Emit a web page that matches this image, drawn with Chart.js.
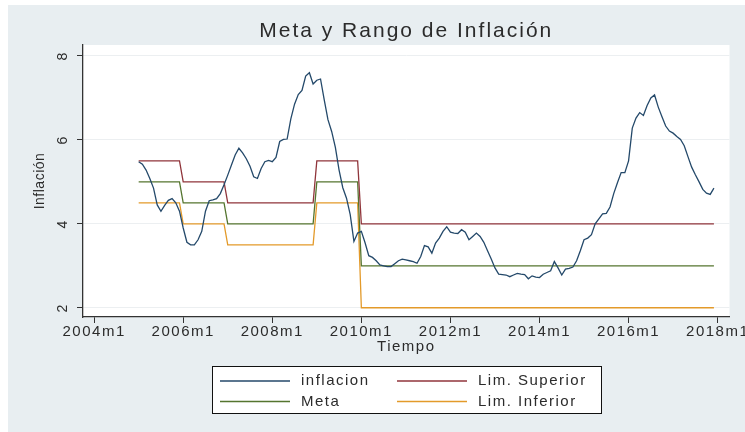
<!DOCTYPE html>
<html>
<head>
<meta charset="utf-8">
<script src="https://cdn.jsdelivr.net/npm/chart.js@4.4.1/dist/chart.umd.min.js"></script>
<style>
  html, body { margin: 0; padding: 0; background: #fff; }
  canvas { display: block; }
</style>
</head>
<body>
<canvas id="myChart" width="745" height="432"></canvas>
<script>
// months are counted from 2004m1 = 0, the series start at 2005m1
const firstMonth = 12;

// monthly inflation, 2005m1 .. 2017m12 (one row per year)
const inflacion = [
  5.48, 5.42, 5.28, 5.08, 4.85, 4.45, 4.30, 4.44, 4.56, 4.60, 4.50, 4.30,
  3.90, 3.56, 3.50, 3.50, 3.62, 3.82, 4.30, 4.55, 4.57, 4.60, 4.72, 4.93,
  5.16, 5.40, 5.64, 5.80, 5.69, 5.55, 5.37, 5.12, 5.08, 5.32, 5.48, 5.51,
  5.48, 5.58, 5.96, 6.01, 6.02, 6.50, 6.85, 7.08, 7.18, 7.52, 7.60, 7.33,
  7.42, 7.45, 6.95, 6.48, 6.20, 5.82, 5.28, 4.86, 4.61, 4.22, 3.58, 3.78,
  3.82, 3.55, 3.24, 3.20, 3.12, 3.02, 3.00, 2.98, 2.98, 3.05, 3.12, 3.16,
  3.14, 3.12, 3.10, 3.06, 3.22, 3.48, 3.45, 3.30, 3.54, 3.66, 3.82, 3.93,
  3.80, 3.78, 3.77, 3.86, 3.80, 3.62, 3.70, 3.78, 3.70, 3.56, 3.36, 3.16,
  2.95, 2.80, 2.79, 2.78, 2.74, 2.78, 2.82, 2.80, 2.79, 2.69, 2.76, 2.73,
  2.72, 2.80, 2.84, 2.88, 3.10, 2.95, 2.78, 2.92, 2.94, 2.97, 3.12, 3.36,
  3.62, 3.66, 3.74, 4.00, 4.12, 4.24, 4.25, 4.40, 4.72, 4.98, 5.22, 5.22,
  5.50, 6.28, 6.52, 6.65, 6.58, 6.82, 7.00, 7.07, 6.78, 6.55, 6.33, 6.21,
  6.16, 6.08, 6.01, 5.86, 5.60, 5.35, 5.17, 5.00, 4.82, 4.73, 4.70, 4.85
];

// target periods: first month of each period (2005m1, 2006m1, 2007m1, 2009m1, 2010m1)
const periodStart = [12, 24, 36, 60, 72];
const meta        = [5.0, 4.5, 4.0, 5.0, 3.0];
const limSuperior = [5.5, 5.0, 4.5, 5.5, 4.0];
const limInferior = [4.5, 4.0, 3.5, 4.5, 2.0];

const xTickMonths = [0, 24, 48, 72, 96, 120, 144, 168];
const xTickLabels = ['2004m1', '2006m1', '2008m1', '2010m1', '2012m1', '2014m1', '2016m1', '2018m1'];
const yTicks = [2, 4, 6, 8];

const inflPoints = inflacion.map((v, i) => ({ x: firstMonth + i, y: v }));

// step values hold for every month of their period
function stepPoints(values) {
  return inflacion.map((_, i) => {
    const m = firstMonth + i;
    let k = 0;
    while (k + 1 < periodStart.length && periodStart[k + 1] <= m) k++;
    return { x: m, y: values[k] };
  });
}

const FONT = 'Liberation Sans, Arial, sans-serif';

const stataLook = {
  id: 'stataLook',
  beforeDraw(chart) {
    const { ctx, chartArea: a } = chart;
    ctx.save();
    ctx.fillStyle = '#ffffff';
    ctx.fillRect(0, 0, 745, 432);
    ctx.fillStyle = '#e8eef1';
    ctx.fillRect(8, 5, 737, 427);
    ctx.fillStyle = '#ffffff';
    ctx.fillRect(a.left, a.top, a.right - a.left, a.bottom - a.top);
    ctx.restore();
    ctx.letterSpacing = '1.5px';
  },
  afterDraw(chart) {
    const { ctx, chartArea: a } = chart;
    const yScale = chart.scales.y;
    const cx = (a.left + a.right) / 2;
    ctx.save();
    ctx.fillStyle = '#2b2b2b';
    ctx.textAlign = 'center';
    ctx.textBaseline = 'middle';

    // title
    ctx.letterSpacing = '2px';
    ctx.font = '21px ' + FONT;
    ctx.fillText('Meta y Rango de Inflación', cx, 31);

    // x axis title
    ctx.letterSpacing = '1.5px';
    ctx.font = '15px ' + FONT;
    ctx.fillText('Tiempo', cx, 347);

    // rotated y tick labels and title
    ctx.font = '14px ' + FONT;
    yTicks.forEach(v => {
      ctx.save();
      ctx.translate(63, yScale.getPixelForValue(v));
      ctx.rotate(-Math.PI / 2);
      ctx.fillText(String(v), 0, 0);
      ctx.restore();
    });
    ctx.letterSpacing = '0.5px';
    ctx.save();
    ctx.translate(40, (a.top + a.bottom) / 2);
    ctx.rotate(-Math.PI / 2);
    ctx.fillText('Inflación', 0, 0);
    ctx.restore();

    // legend
    ctx.fillStyle = '#ffffff';
    ctx.fillRect(212, 366, 390, 48);
    ctx.strokeStyle = '#111';
    ctx.lineWidth = 1;
    ctx.strokeRect(212.5, 366.5, 389, 47);
    const slots = [[220, 381], [397, 381], [220, 401.5], [397, 401.5]];
    ctx.letterSpacing = '1.5px';
    ctx.font = '15px ' + FONT;
    ctx.textAlign = 'left';
    chart.data.datasets.forEach((ds, i) => {
      const [lx, ly] = slots[i];
      ctx.strokeStyle = ds.borderColor;
      ctx.lineWidth = 1.3;
      ctx.beginPath();
      ctx.moveTo(lx, ly);
      ctx.lineTo(lx + 70, ly);
      ctx.stroke();
      ctx.fillStyle = '#2b2b2b';
      ctx.fillText(ds.label, lx + 81, ly);
    });
    ctx.restore();
  }
};

new Chart(document.getElementById('myChart'), {
  type: 'line',
  data: {
    datasets: [
      { label: 'inflacion', data: inflPoints, borderColor: '#24496a' },
      { label: 'Lim. Superior', data: stepPoints(limSuperior), borderColor: '#90353b' },
      { label: 'Meta', data: stepPoints(meta), borderColor: '#55752f' },
      { label: 'Lim. Inferior', data: stepPoints(limInferior), borderColor: '#e39a2a' }
    ]
  },
  options: {
    responsive: false,
    animation: false,
    layout: { padding: { top: 45, right: 14, bottom: 0, left: 0 } },
    elements: {
      point: { radius: 0 },
      line: { borderWidth: 1.3, tension: 0 }
    },
    plugins: {
      legend: { display: false },
      title: { display: false },
      tooltip: { enabled: false }
    },
    scales: {
      x: {
        type: 'linear',
        min: -3,
        max: 171.2,
        afterBuildTicks: s => { s.ticks = xTickMonths.map(v => ({ value: v })); },
        afterFit: s => { s.height = 115; },
        grid: { drawOnChartArea: false, tickLength: 6, tickColor: '#333' },
        border: { color: '#333', width: 1.3 },
        ticks: {
          font: { family: FONT, size: 15 },
          color: '#2b2b2b',
          padding: 0,
          maxRotation: 0,
          autoSkip: false,
          callback: (v, i) => xTickLabels[i]
        }
      },
      y: {
        min: 1.78,
        max: 8.26,
        afterBuildTicks: s => { s.ticks = yTicks.map(v => ({ value: v })); },
        afterFit: s => { s.width = 83; },
        grid: { color: '#eceff1', tickLength: 6, tickColor: '#333' },
        border: { color: '#333', width: 1.3 },
        ticks: { display: false }
      }
    }
  },
  plugins: [stataLook]
});
</script>
</body>
</html>
